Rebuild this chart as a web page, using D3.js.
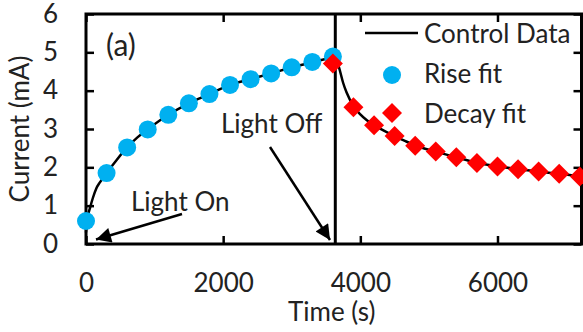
<!DOCTYPE html>
<html lang="en">
<head>
<meta charset="utf-8">
<script src="https://d3js.org/d3.v7.min.js"></script>
<style>
  body { margin: 0; background: #fff; }
  text { font-family: Lato, "Open Sans", sans-serif; fill: #222; }
</style>
</head>
<body>
<script>
var width = 583, height = 332;
var margin = {left: 86, right: 1.5, top: 14, bottom: 88};

// x ticks / y ticks
var xTicks = [0, 2000, 4000, 6000];
var yTicks = [0, 1, 2, 3, 4, 5, 6];

// light switched off here (s)
var lightOffTime = 3635;

// control data (measured current)
var ctrlTime = [0, 15, 60, 100, 150, 200, 300, 450, 600, 750, 900, 1200, 1500, 1800, 2100, 2400, 2700, 3000, 3300, 3600, 3630,
                3650, 3690, 3750, 3800, 3900, 4000, 4100, 4200, 4350, 4500, 4650, 4800, 5100, 5400, 5700, 6000, 6300, 6600, 6900, 7200, 7300];
var ctrlCurrent = [0.3, 0.6, 0.95, 1.2, 1.45, 1.6, 1.85, 2.2, 2.52, 2.78, 2.99, 3.37, 3.67, 3.91, 4.15, 4.30, 4.45, 4.61, 4.74, 4.87, 4.88,
                   4.82, 4.6, 4.2, 3.95, 3.6, 3.38, 3.22, 3.1, 2.95, 2.82, 2.69, 2.57, 2.41, 2.26, 2.12, 2.03, 1.95, 1.89, 1.83, 1.77, 1.75];

// rise fit
var riseTime = [0, 300, 600, 900, 1200, 1500, 1800, 2100, 2400, 2700, 3000, 3300, 3600];
var riseCurrent = [0.6, 1.85, 2.52, 2.99, 3.37, 3.67, 3.91, 4.15, 4.30, 4.45, 4.61, 4.75, 4.89];

// decay fit
var decayTime = [3600, 3900, 4200, 4500, 4800, 5100, 5400, 5700, 6000, 6300, 6600, 6900, 7200];
var decayCurrent = [4.71, 3.57, 3.10, 2.82, 2.56, 2.41, 2.26, 2.11, 2.02, 1.95, 1.89, 1.83, 1.76];

var legendLabels = ["Control Data", "Rise fit", "Decay fit"];

var blue = "#00b0f0", red = "#ff0000";

var svg = d3.select("body").append("svg")
    .attr("width", width)
    .attr("height", height);

var x = d3.scaleLinear().domain([0, 7225]).range([margin.left, width - margin.right]);
var y = d3.scaleLinear().domain([0, 6]).range([height - margin.bottom, margin.top]);

var x0 = x.range()[0], x1 = x.range()[1], y0 = y.range()[0], y1 = y.range()[1];

// axes, ticks pointing inwards on all four sides
function styleAxis(g) {
  g.select(".domain").remove();
  g.selectAll(".tick line").attr("stroke", "#000").attr("stroke-width", 2.5);
  g.selectAll(".tick text").style("font-size", "26px").attr("fill", "#222");
}

svg.append("g").attr("transform", "translate(0," + y0 + ")")
   .call(d3.axisBottom(x).tickValues(xTicks).tickSize(-8).tickPadding(29.5).tickFormat(d3.format("d")))
   .call(styleAxis);
svg.append("g").attr("transform", "translate(0," + y1 + ")")
   .call(d3.axisTop(x).tickValues(xTicks).tickSize(-8).tickFormat(""))
   .call(styleAxis);
svg.append("g").attr("transform", "translate(" + x0 + ",0)")
   .call(d3.axisLeft(y).tickValues(yTicks).tickSize(-8).tickPadding(28).tickFormat(d3.format("d")))
   .call(styleAxis);
svg.append("g").attr("transform", "translate(" + x1 + ",0)")
   .call(d3.axisRight(y).tickValues(yTicks).tickSize(-8).tickFormat(""))
   .call(styleAxis);

// frame
svg.append("rect")
   .attr("x", x0).attr("y", y1)
   .attr("width", x1 - x0).attr("height", y0 - y1)
   .attr("fill", "none").attr("stroke", "#000").attr("stroke-width", 3);

// axis titles
svg.append("text")
   .attr("x", (x0 + x1) / 2 - 2).attr("y", 321)
   .attr("text-anchor", "middle").style("font-size", "26px")
   .text("Time (s)");
svg.append("text")
   .attr("transform", "translate(29," + ((y0 + y1) / 2) + ") rotate(-90)")
   .attr("text-anchor", "middle").style("font-size", "26px")
   .text("Current (mA)");

// light off marker
svg.append("line")
   .attr("x1", x(lightOffTime)).attr("x2", x(lightOffTime))
   .attr("y1", y(0)).attr("y2", y(6))
   .attr("stroke", "#000").attr("stroke-width", 3);

// control data line
var ctrl = ctrlTime.map(function(t, i) { return [t, ctrlCurrent[i]]; });
var line = d3.line().x(function(d) { return x(d[0]); }).y(function(d) { return y(d[1]); }).curve(d3.curveMonotoneX);
svg.append("path")
   .datum(ctrl)
   .attr("d", line)
   .attr("fill", "none").attr("stroke", "#000").attr("stroke-width", 2.5);

// rise fit circles
svg.selectAll("circle.rise")
   .data(riseTime)
   .enter().append("circle")
   .attr("class", "rise")
   .attr("cx", function(d) { return x(d); })
   .attr("cy", function(d, i) { return y(riseCurrent[i]); })
   .attr("r", 9)
   .attr("fill", blue);

// decay fit diamonds
var diamond = d3.symbol().type(d3.symbolSquare).size(200);
svg.selectAll("path.decay")
   .data(decayTime)
   .enter().append("path")
   .attr("class", "decay")
   .attr("d", diamond)
   .attr("transform", function(d, i) { return "translate(" + x(d) + "," + y(decayCurrent[i]) + ") rotate(45)"; })
   .attr("fill", red);

// legend
var lg = svg.append("g");
lg.append("line").attr("x1", 365).attr("x2", 418).attr("y1", 33).attr("y2", 33)
  .attr("stroke", "#000").attr("stroke-width", 2.5);
lg.append("circle").attr("cx", 392).attr("cy", 75).attr("r", 9).attr("fill", blue);
lg.append("path").attr("d", diamond).attr("transform", "translate(392,113) rotate(45)").attr("fill", red);
lg.selectAll("text")
  .data(legendLabels)
  .enter().append("text")
  .attr("x", 424)
  .attr("y", function(d, i) { return 43 + i * 40; })
  .style("font-size", "26px")
  .text(function(d) { return d; });

// annotations
svg.append("text").attr("x", 106).attr("y", 56).style("font-size", "30px").text("(a)");
svg.append("text").attr("x", 131).attr("y", 211).style("font-size", "26px").text("Light On");
svg.append("text").attr("x", 221).attr("y", 133).style("font-size", "26px").text("Light Off");

svg.append("defs").append("marker")
   .attr("id", "arrow").attr("viewBox", "0 0 10 10")
   .attr("refX", 10).attr("refY", 5)
   .attr("markerWidth", 7).attr("markerHeight", 6)
   .attr("markerUnits", "strokeWidth")
   .attr("orient", "auto")
   .append("path").attr("d", "M0,0 L10,5 L0,10 Z").attr("fill", "#000");

svg.append("line").attr("x1", 182).attr("y1", 214).attr("x2", 96).attr("y2", 239.5)
   .attr("stroke", "#000").attr("stroke-width", 2.5).attr("marker-end", "url(#arrow)");
svg.append("line").attr("x1", 270).attr("y1", 147).attr("x2", 330).attr("y2", 240)
   .attr("stroke", "#000").attr("stroke-width", 2.5).attr("marker-end", "url(#arrow)");
</script>
</body>
</html>
